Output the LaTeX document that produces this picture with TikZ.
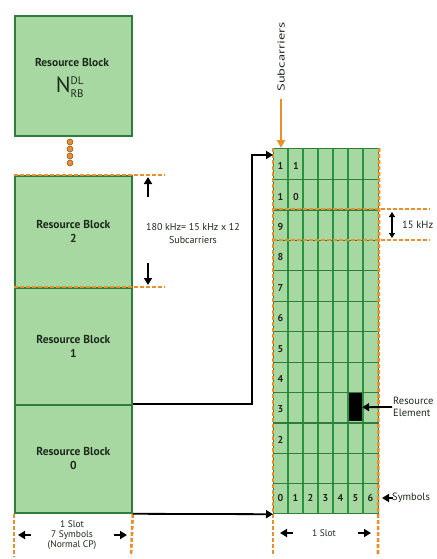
\documentclass[tikz,border=0pt]{standalone}
\usepackage{fontspec}
\setmainfont{PT Sans}
\usetikzlibrary{arrows.meta,calc}
\definecolor{rbfill}{HTML}{A8D8A2}
\definecolor{rbline}{HTML}{2E7D3A}
\definecolor{gridln}{HTML}{27923F}
\definecolor{orng}{HTML}{E8902E}
\definecolor{txt}{HTML}{1C2A1C}
\tikzset{
  rbbox/.style={draw=rbline, line width=1.8pt, fill=rbfill, minimum width=117pt, inner sep=0pt, align=center, font=\bfseries\fontsize{11.5}{14}\selectfont, text=txt},
  odash/.style={draw=orng, line width=2.6pt, dash pattern=on 4pt off 2pt},
  conn/.style={draw=black, line width=1.8pt, -{Triangle[width=8pt,length=7pt]}},
  smarr/.style={draw=black, line width=1.8pt, -{Triangle[width=8pt,length=7pt]}},
  lbl/.style={font=\fontsize{10.5}{12.5}\selectfont, text=txt, inner sep=0pt},
  num/.style={font=\bfseries\fontsize{10}{11}\selectfont, text=txt, inner sep=0pt},
  dotc/.style={circle, draw=brown!70!black, fill=orng, line width=0.6pt, minimum size=6pt, inner sep=0pt}
}
\begin{document}
\begin{tikzpicture}[x=1pt,y=-1pt]
\useasboundingbox[fill=white] (0,0) rectangle (436,559);
% left column
\node[rbbox, minimum height=120pt, anchor=north west] (rbN) at (14,15) {};
\node[font=\bfseries\fontsize{11.5}{14}\selectfont, text=txt, inner sep=0pt] (rbNt) at (72,62) {Resource Block};
\node[font=\fontsize{22}{22}\selectfont, text=txt, inner sep=0pt] (nN) at (70,87) {$\mathrm{N}^{\scriptscriptstyle\mathrm{DL}}_{\scriptscriptstyle\mathrm{RB}}$};
\node[rbbox, minimum height=112pt, anchor=north west] (rb2) at (14,175) {Resource Block\\2};
\node[rbbox, minimum height=117pt, anchor=north west] (rb1) at (14,287) {Resource Block\\1};
\node[rbbox, minimum height=108pt, anchor=north west] (rb0) at (14,404) {Resource Block\\0};
% dots
\foreach \yy/\nm in {142/d1,149/d2,156/d3,163/d4}
  \node[dotc] (\nm) at (70,\yy) {};
% dashed lines
\coordinate (e2) at (165,175);
\coordinate (e1) at (165,287);
\draw[odash] (rb2.north west) -- (e2);
\draw[odash] (rb1.north west) -- (e1);
\coordinate (b1) at (14,556);
\coordinate (b2) at (131,556);
\draw[odash] (rb0.south west) -- (b1);
\draw[odash] (rb0.south east) -- (b2);
% 180 kHz label
\coordinate (ua1) at (148,197);
\coordinate (ua2) at (148,177);
\coordinate (da1) at (148,263);
\coordinate (da2) at (148,285);
\draw[smarr] (ua1) -- (ua2);
\draw[smarr] (da1) -- (da2);
\node[lbl, align=center, font=\fontsize{10}{13}\selectfont] (bw) at (193,233) {180 kHz= 15 kHz x 12\\Subcarriers};
% slot label left
\node[lbl, align=center, font=\fontsize{9.5}{10}\selectfont] (slotL) at (72,535) {1 Slot\\7 Symbols\\(Normal CP)};
\coordinate (sl1) at (31,535);
\coordinate (sl2) at (18,535);
\coordinate (sl3) at (114,535);
\coordinate (sl4) at (127,535);
\draw[smarr] (sl1) -- (sl2);
\draw[smarr] (sl3) -- (sl4);
% grid
\node[draw=rbline, line width=1.2pt, fill=rbfill, minimum width=105pt, minimum height=365pt, inner sep=0pt, anchor=north west] (grid) at (273,148) {};
\foreach \j in {1,...,6}
  \draw[gridln, line width=1.1pt] ($(grid.north west)+(\j*15,0)$) -- ($(grid.south west)+(\j*15,0)$);
\foreach \i in {1,...,11}
  \draw[rbline, line width=1.1pt] ($(grid.south west)+(0,-\i*30.4167)$) -- ($(grid.south east)+(0,-\i*30.4167)$);
% black resource element
\node[fill=black, minimum width=13pt, minimum height=28pt, inner sep=0pt] (re) at (355.5,407.2) {};
% numbers
\foreach \i in {2,...,9}
  \node[num] at (280.5,{516-(\i+0.5)*30.4167}) {\i};
\node[num] at (280.5,{516-11.5*30.4167}) {1};
\node[num] at (296,{516-11.5*30.4167}) {1};
\node[num] at (280.5,{516-10.5*30.4167}) {1};
\node[num] at (296,{516-10.5*30.4167}) {0};
\foreach \j in {0,...,6}
  \node[num] at ({280.5+\j*15},{513-0.5*30.4167}) {\j};
% orange dashed verticals on grid
\coordinate (g1) at (273,556);
\coordinate (g2) at (378,556);
\draw[odash] (grid.north west) -- (g1);
\draw[odash] (grid.north east) -- (g2);
% row 9 dashed lines
\coordinate (r9a) at (273,209);
\coordinate (r9b) at (430,209);
\coordinate (r9c) at (273,240);
\coordinate (r9d) at (430,240);
\draw[odash] (r9a) -- (r9b);
\draw[odash] (r9c) -- (r9d);
\coordinate (k1) at (392,212);
\coordinate (k2) at (392,238);
\draw[black, line width=1.5pt, {Triangle[width=6pt,length=5pt]}-{Triangle[width=6pt,length=5pt]}] (k1) -- (k2);
\node[lbl, anchor=west] (khz) at (402,225) {15 kHz};
% subcarriers
\node[lbl, rotate=90, font=\fontsize{10}{12}\selectfont] (sub) at (281,57) {\scalebox{1.45}[1]{Subcarriers}};
\coordinate (sa) at (281,99);
\draw[orng, line width=2.2pt, -{Triangle[width=8pt,length=8pt]}] (sa) -- (grid.north west -| sa);
% connectors
\draw[conn] (rb0.north east) -- (252,404) |- ($(grid.north west)+(0,7)$);
\draw[conn] (rb0.south east) -- (grid.south west);
% resource element label
\coordinate (rea) at (392,407);
\draw[smarr] (rea) -- (re.east);
\node[lbl, anchor=west, align=left] (relbl) at (393,407) {Resource\\Element};
% symbols label
\coordinate (sy) at (393,498);
\draw[smarr] (sy) -- (382,498);
\node[lbl, anchor=west] (sylbl) at (392,498) {Symbols};
% slot label right
\node[lbl, font=\fontsize{9.5}{10}\selectfont] (slotR) at (324,533) {1 Slot};
\coordinate (sr1) at (293,533);
\coordinate (sr2) at (280,533);
\coordinate (sr3) at (358,533);
\coordinate (sr4) at (371,533);
\draw[smarr] (sr1) -- (sr2);
\draw[smarr] (sr3) -- (sr4);
\end{tikzpicture}
\end{document}
